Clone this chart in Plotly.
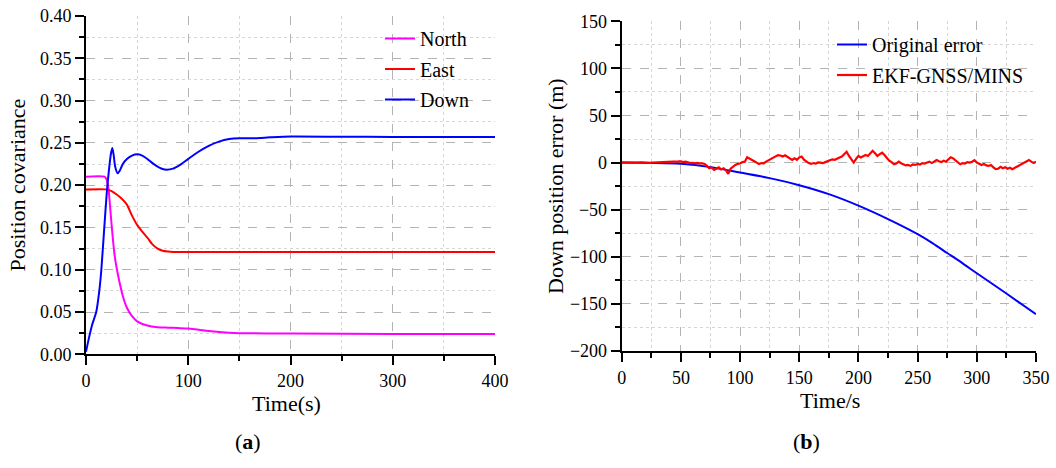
import numpy as np
import plotly.graph_objects as go

# ---------------- Data: panel (a) ----------------
north_t = [0, 18, 20, 22, 24, 26, 28, 30, 33, 36, 40, 45, 50, 60, 70, 80, 90, 100, 110, 125, 140, 150, 200, 300, 400]
north_v = [0.21, 0.21, 0.207, 0.196, 0.168, 0.14, 0.117, 0.102, 0.084, 0.069, 0.055, 0.045, 0.039, 0.034, 0.032, 0.0315, 0.031, 0.0305, 0.029, 0.027, 0.0255, 0.025, 0.0245, 0.024, 0.024]

east_t = [0, 20, 25, 30, 35, 40, 45, 50, 55, 60, 65, 70, 75, 80, 85, 90, 100, 200, 300, 400]
east_v = [0.195, 0.195, 0.193, 0.189, 0.184, 0.177, 0.164, 0.153, 0.145, 0.138, 0.130, 0.125, 0.1225, 0.1215, 0.121, 0.121, 0.121, 0.121, 0.121, 0.121]

down_t = [0, 3, 6, 10, 13, 15, 18, 20.5, 22.8, 24.5, 25.8, 27, 28.5, 31, 33, 36, 40, 45, 50, 55, 60, 65, 70, 77, 85, 92, 100, 110, 120, 130, 140, 150, 165, 180, 200, 250, 300, 400]
down_v = [0.003, 0.02, 0.035, 0.05, 0.075, 0.1, 0.152, 0.194, 0.222, 0.238, 0.244, 0.236, 0.222, 0.214, 0.217, 0.225, 0.231, 0.235, 0.2365, 0.235, 0.231, 0.226, 0.222, 0.2185, 0.2195, 0.224, 0.231, 0.2395, 0.2465, 0.2515, 0.2545, 0.2555, 0.2555, 0.2565, 0.2575, 0.2572, 0.257, 0.257]

# ---------------- Data: panel (b) ----------------
orig_t = [0, 25, 50, 75, 100, 125, 150, 175, 200, 225, 250, 262.5, 275, 287.5, 300, 325, 350]
orig_v = [0, -0.3, -1.2, -4.8, -10.6, -16.5, -24, -33.5, -45.7, -60, -76, -85.5, -96, -106.5, -117.5, -139, -161]

ekf_v = [
    # t = 0 .. 48
    0, 0.2, -0.1, 0.1, 0, -0.2, 0.1, 0, 0.2, -0.1, 0, 0.1, -0.2, 0, 0.1, 0, -0.1, 0.2, 0, 0.3, 0.5, 0.2, 0.6, 0.9, 1.2,
    # t = 50 .. 68
    1.4, 0.6, 1.0, 0.2, -0.5, -0.2, -0.8, -0.4, -1.0, -0.7,
    # t = 70 .. 98
    -1.5, -3.5, -6.0, -5.2, -7.8, -6.5, -5.0, -7.2, -6.0, -8.0, -12.0, -6.5, -4.0, -2.5, -1.4,
    # t = 100 .. 148
    -1.0, 0.5, 1.0, 5.7, 4.0, 2.5, 1.5, 0.0, -1.5, -0.5, -0.7, 1.0, 2.5, 3.5, 5.0, 7.0, 8.0, 7.5, 6.5, 7.8, 6.0, 4.0, 2.8, 4.6, 3.0,
    # t = 150 .. 198
    5.5, 6.4, 3.0, 1.0, -0.5, -1.4, -0.5, -1.0, 0.2, 0, -0.6, 0.5, 1.5, 2.5, 3.5, 3.0, 4.5, 5.5, 6.4, 9.0, 11.5, 7.0, 3.0, 0.0, 4.0,
    # t = 200 .. 248
    7.0, 5.5, 6.5, 8.0, 7.0, 9.5, 12.5, 10.0, 7.0, 9.0, 10.5, 8.0, 4.5, 2.0, 0.5, -1.8, -1.0, 1.0, -0.7, -2.0, -3.0, -2.5, -3.5, -2.0, -2.5,
    # t = 250 .. 298
    -1.5, -2.0, -0.5, -1.0, 0.0, 1.0, -0.5, 1.5, 2.8, 1.5, 0.5, 2.0, 1.0, 3.5, 5.7, 4.5, 2.5, 0.0, -1.8, -0.5, -1.0, 0.5, 0.0, 1.0, 2.5,
    # t = 300 .. 350
    0.0, -1.5, -2.5, -1.5, -3.0, -3.5, -2.5, -5.0, -7.0, -6.5, -4.5, -6.0, -5.0, -6.5, -5.5, -7.0, -5.5, -4.0, -2.5, -1.0, 0.5, 1.5, 2.8, 1.0, -0.5, 1.0,
]
ekf_t = [2 * i for i in range(len(ekf_v))]

# ---------------- Figure ----------------
FONT = "Liberation Serif, Times New Roman, serif"
fig = go.Figure()

fig.add_trace(go.Scatter(x=north_t, y=north_v, mode="lines", name="North", legendgroup="n",
                         line=dict(color="#ff00ff", width=2, shape="spline", smoothing=0.6),
                         xaxis="x", yaxis="y", legend="legend"))
fig.add_trace(go.Scatter(x=east_t, y=east_v, mode="lines", name="East", legendgroup="e",
                         line=dict(color="#ff0000", width=2, shape="spline", smoothing=0.6),
                         xaxis="x", yaxis="y", legend="legend"))
fig.add_trace(go.Scatter(x=down_t, y=down_v, mode="lines", name="Down", legendgroup="d",
                         line=dict(color="#0000ff", width=2, shape="spline", smoothing=0.6),
                         xaxis="x", yaxis="y", legend="legend"))

fig.add_trace(go.Scatter(x=orig_t, y=orig_v, mode="lines", name="Original error", legendgroup="o",
                         line=dict(color="#0000ff", width=2, shape="spline", smoothing=0.8),
                         xaxis="x2", yaxis="y2", legend="legend2"))
fig.add_trace(go.Scatter(x=ekf_t, y=ekf_v, mode="lines", name="EKF-GNSS/MINS", legendgroup="k",
                         line=dict(color="#ff0000", width=2.2),
                         xaxis="x2", yaxis="y2", legend="legend2"))

W, H = 1056, 468

def axis_common():
    return dict(
        automargin=False,
        showline=True, linecolor="black", linewidth=2,
        ticks="outside", ticklen=9, tickwidth=2, tickcolor="black",
        showgrid=True, gridcolor="#b4b4b4", griddash="dash", gridwidth=1,
        zeroline=False, mirror=False,
        tickfont=dict(family=FONT, size=18, color="black"),
        title_font=dict(family=FONT, size=22, color="black"),
        minor=dict(ticks="outside", ticklen=5, tickwidth=2, tickcolor="black",
                   showgrid=True, gridcolor="#d6d6d6", griddash="dot", gridwidth=1),
    )

xa = axis_common()
xa.update(domain=[86 / W, 495 / W], range=[0, 400], dtick=100, tick0=0, anchor="y")
xa["minor"]["dtick"] = 50
ya = axis_common()
ya.update(domain=[1 - 354.3 / H, 1 - 16 / H], range=[0, 0.4], dtick=0.05, tick0=0,
          tickformat=".2f", anchor="x", title=dict(text="Position covariance", standoff=8))
ya["minor"]["dtick"] = 0.025

xb = axis_common()
xb.update(domain=[621.7 / W, 1036 / W], range=[0, 350], dtick=50, tick0=0, anchor="y2")
xb["minor"]["dtick"] = 25
yb = axis_common()
yb.update(domain=[1 - 351 / H, 1 - 21.3 / H], range=[-200, 150], dtick=50, tick0=0,
          anchor="x2", title=dict(text="Down position error (m)", standoff=0))
yb["minor"]["dtick"] = 25

def label(text, px, py, size=22):
    return dict(text=text, x=px / W, y=1 - py / H, xref="paper", yref="paper",
                showarrow=False, xanchor="center", yanchor="middle",
                font=dict(family=FONT, size=size, color="black"))

fig.update_layout(
    width=W, height=H,
    margin=dict(l=0, r=0, t=0, b=0),
    paper_bgcolor="white", plot_bgcolor="white",
    font=dict(family=FONT, size=18, color="black"),
    xaxis=xa, yaxis=ya, xaxis2=xb, yaxis2=yb,
    legend=dict(x=380 / W, y=1 - 19 / H, xanchor="left", yanchor="top",
                bgcolor="rgba(0,0,0,0)", font=dict(family=FONT, size=20, color="black"),
                tracegroupgap=1.5),
    legend2=dict(x=832 / W, y=1 - 25 / H, xanchor="left", yanchor="top",
                 bgcolor="rgba(0,0,0,0)", font=dict(family=FONT, size=20, color="black"),
                 tracegroupgap=1.5),
    annotations=[
        label("Time(s)", 286, 403),
        label("Time/s", 830, 400),
        label("(<b>a</b>)", 248, 441),
        label("(<b>b</b>)", 806, 441),
    ],
)

fig.write_html("out.html")
